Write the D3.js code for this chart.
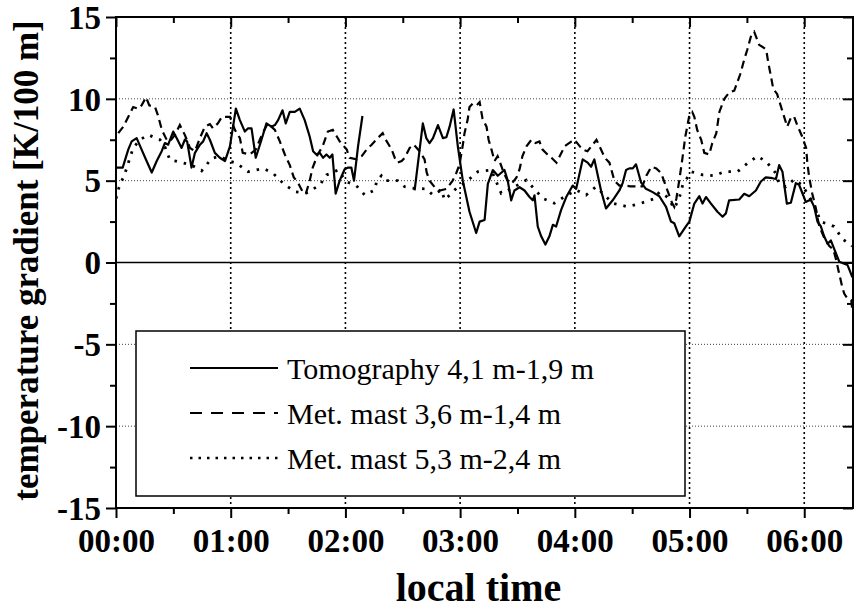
<!DOCTYPE html>
<html><head><meta charset="utf-8">
<script src="https://cdn.jsdelivr.net/npm/d3@7"></script>
<style>
body{margin:0;background:#fff;}
text{font-family:"Liberation Serif","Times New Roman",serif;}
</style></head>
<body><svg id="c" width="854" height="610"></svg>
<script>
// ---- data (time in minutes after 00:00, value in K/100 m) ----
const tomoTime = [0.4,3.5,6.4,8.2,10.8,13.4,16.0,18.7,21.3,23.9,25.6,27.3,29.9,31.7,34.3,36.0,37.2,39.5,41.3,43.9,45.6,47.4,49.1,51.7,54.3,57.0,59.6,62.7,64.8,67.4,69.1,70.9,73.1,76.1,78.7,81.3,83.1,84.8,87.1,88.8,90.9,93.5,96.1,98.7,101.3,103.1,104.8,106.6,108.3,110.1,111.8,113.2,114.9,117.0,119.6,121.4,123.1,124.5,126.6,128.9,
  142.0,
  156.2,160.5,162.3,164.0,165.8,168.4,171.0,172.8,174.5,176.6,178.8,181.4,184.9,188.4,190.2,192.8,194.5,197.1,199.7,203.2,204.9,206.7,208.4,211.1,213.7,216.3,218.0,218.9,220.6,222.4,224.6,226.7,228.5,230.2,232.8,235.5,238.9,240.7,244.1,246.7,248.5,250.2,253.7,256.3,259.8,263.3,265.0,266.8,268.5,270.3,272.0,274.6,277.2,280.7,284.2,287.7,290.3,292.0,294.6,298.1,299.9,302.5,305.1,306.8,308.6,311.2,314.6,317.3,319.0,320.7,326.0,328.6,331.2,334.7,337.3,339.9,343.4,345.2,346.9,348.6,350.9,353.0,355.6,357.3,360.8,363.4,365.2,366.9,368.7,370.4,372.2,373.9,375.6,378.3,382.6,385.2];
const tomoValue = [5.8,5.8,6.9,7.4,7.6,6.9,6.2,5.5,6.2,6.8,7.3,7.2,8.0,7.6,7.0,7.5,7.4,5.8,6.7,7.2,7.4,7.9,7.5,6.7,6.4,6.2,7.1,9.4,8.7,8.0,8.2,8.2,6.4,7.5,8.5,8.3,8.4,8.7,9.3,8.5,9.2,9.2,9.4,8.7,7.7,6.8,6.6,6.7,6.4,6.6,6.4,6.6,4.2,5.0,5.7,5.8,5.8,5.0,7.1,8.95,
  null,
  4.4,8.5,7.6,7.3,7.6,8.4,7.6,7.65,8.3,9.35,7.1,5.0,3.1,1.8,2.5,2.6,4.8,5.65,5.3,5.65,5.0,3.8,4.4,4.6,4.4,4.0,3.8,4.1,2.2,1.6,1.1,1.6,2.3,2.2,3.2,4.0,4.7,4.5,6.3,6.1,5.85,6.3,4.4,3.3,3.8,4.4,4.85,5.65,5.75,5.75,6.0,4.9,4.5,4.3,4.05,3.4,2.5,2.4,1.6,2.2,2.5,3.6,4.05,3.6,4.0,3.6,3.1,2.8,3.0,3.8,3.85,4.2,4.05,4.4,4.95,5.2,5.15,5.1,5.95,5.55,3.6,3.65,4.85,4.75,3.7,3.85,3.4,2.5,2.2,1.6,1.15,1.35,0.85,0.05,-0.15,-0.9];

const mast36Time = [1.2,3.8,7.3,9.0,11.6,13.4,15.7,17.4,20.4,21.9,24.0,26.5,28.2,30.8,33.4,36.0,38.7,41.3,43.9,46.5,49.1,50.7,53.3,55.4,59.6,62.2,64.8,66.3,70.0,73.1,76.3,79.4,83.1,85.7,88.3,90.9,93.0,95.1,97.7,99.3,101.3,102.9,105.5,108.1,110.8,113.4,115.5,117.0,120.7,122.2,125.9,128.5,131.1,133.7,136.9,139.5,141.1,144.2,145.8,147.3,149.4,151.0,153.6,155.7,158.8,161.4,162.5,164.0,166.7,169.3,172.9,176.1,178.1,179.7,181.3,182.3,183.9,184.9,186.5,188.6,190.2,191.7,193.8,194.9,196.4,198.0,199.6,201.7,202.7,204.8,206.9,209.5,211.1,212.6,214.7,217.3,219.4,221.5,223.1,225.7,227.8,230.4,233.0,234.6,238.3,239.8,241.9,244.0,246.6,248.7,251.3,252.9,254.9,256.5,258.1,260.7,263.3,266.4,269.0,275.3,277.4,280.0,282.6,285.2,287.8,289.4,291.0,292.0,293.1,294.6,296.2,297.8,298.8,299.9,301.4,302.5,304.0,306.1,307.7,310.3,311.9,314.0,315.6,318.2,320.8,323.4,326.5,328.6,330.2,332.3,333.8,336.4,339.1,340.1,341.2,342.7,343.8,345.8,347.9,349.5,351.1,353.2,354.7,356.3,358.9,361.0,361.6,362.6,364.2,366.3,366.8,367.9,370.5,373.1,375.2,376.7,378.3,379.9,380.9,382.6,384.6,385.2];
const mast36Value = [7.9,8.3,9.1,9.5,9.4,9.6,10.1,9.6,9.5,9.0,8.1,7.5,7.4,7.8,8.4,7.8,7.0,6.8,7.6,8.3,8.45,8.2,8.5,8.9,8.9,8.1,7.6,6.7,6.6,6.9,7.8,8.5,8.1,7.4,6.6,5.95,5.2,4.9,4.3,4.2,5.0,5.8,6.6,7.1,8.0,8.1,7.7,7.4,6.9,6.4,6.3,6.5,6.9,7.2,7.6,7.9,7.5,6.9,6.4,6.1,6.2,6.4,7.0,7.2,6.8,6.3,5.5,5.0,4.6,4.4,4.5,5.0,5.5,6.0,7.1,7.9,8.7,9.5,9.7,9.6,9.8,8.8,8.3,7.5,6.9,6.2,6.5,5.85,5.5,5.0,4.8,5.2,5.7,6.5,7.1,7.5,7.3,7.4,6.9,6.6,6.4,6.1,6.7,7.1,7.4,7.5,7.2,6.9,6.8,7.1,7.5,7.1,6.6,6.3,6.1,5.0,4.7,4.7,4.65,4.65,5.3,5.85,5.75,5.45,4.6,4.1,3.6,3.4,3.9,5.0,6.3,7.7,8.3,9.0,9.2,8.9,8.1,7.5,6.7,6.6,7.3,7.9,9.2,10.0,10.4,10.5,11.5,12.4,13.0,13.9,14.1,13.3,13.1,13.0,12.2,11.3,10.6,10.3,9.5,8.9,8.3,8.9,8.9,8.4,7.7,7.0,6.1,5.2,4.2,3.2,2.8,2.2,1.5,1.0,0.8,0.15,-0.7,-1.5,-1.9,-2.2,-2.3,-3.0];

const mast53Time = [0,1.6,4.7,7.3,9.0,12.5,16.9,23.0,25.6,28.2,31.3,39.5,44.8,50.0,54.3,57.8,63.1,69.1,77.0,82.2,87.4,93.5,99.6,106.6,110.1,113.4,116.1,120.5,125.7,130.1,135.3,136.4,138.8,140.5,147.3,151.0,156.2,162.3,165.8,170.2,171.9,178.0,183.2,189.3,196.3,201.5,206.7,214.6,223.2,229.3,234.6,240.7,245.9,251.1,259.8,267.6,274.6,281.6,284.2,288.4,292.0,294.6,296.4,300.8,306.8,312.9,318.2,325.1,330.3,335.5,340.1,345.2,346.9,350.4,354.7,358.9,364.3,368.7,375.6,379.9,385.0];
const mast53Value = [3.9,4.6,5.45,6.4,7.0,7.5,7.8,7.5,7.07,6.26,6.2,5.95,5.6,6.36,6.5,6.26,6.06,5.55,5.75,5.45,4.84,4.33,4.25,4.73,5.35,5.5,5.65,4.94,4.7,4.12,4.43,5.0,5.3,5.0,5.0,4.63,4.53,4.5,4.12,4.43,3.82,4.53,4.94,5.55,5.65,4.23,4.5,5.04,3.92,3.62,4.02,4.43,4.12,4.63,3.62,3.41,3.62,3.9,4.3,4.0,3.31,3.92,4.73,5.55,5.35,5.3,5.55,5.55,6.06,6.5,6.16,5.45,4.8,4.63,5.08,4.73,3.7,2.5,2.2,1.45,1.0];

const xMajorTicks = [0,60,120,180,240,300,360];
const xMinorTicks = [30,90,150,210,270,330];
const xTickLabels = ["00:00","01:00","02:00","03:00","04:00","05:00","06:00"];
const yMajorTicks = [-15,-10,-5,0,5,10,15];
const yMinorTicks = [-12.5,-7.5,-2.5,2.5,7.5,12.5];
const legendLabels = ["Tomography 4,1 m-1,9 m","Met. mast 3,6 m-1,4 m","Met. mast 5,3 m-2,4 m"];

// ---- drawing ----
const svg = d3.select("#c");
const L=116, R=853, T=17, B=508;
const x = d3.scaleLinear().domain([0,385.5]).range([L,R]);
const y = d3.scaleLinear().domain([-15,15]).range([B,T]);

svg.append("defs").append("clipPath").attr("id","clip")
  .append("rect").attr("x",L).attr("y",T).attr("width",R-L).attr("height",B-T);

// grid
const grid = svg.append("g");
grid.selectAll("line.vg").data(xMajorTicks.filter(d=>d>0)).join("line")
  .attr("x1",d=>x(d)).attr("x2",d=>x(d)).attr("y1",T).attr("y2",B)
  .attr("stroke","#000").attr("stroke-width",1.6).attr("stroke-dasharray","2,3");
grid.selectAll("line.hg").data(yMajorTicks.filter(d=>d!==0 && Math.abs(d)<15)).join("line")
  .attr("x1",L).attr("x2",R).attr("y1",d=>y(d)).attr("y2",d=>y(d))
  .attr("stroke","#444").attr("stroke-width",1).attr("stroke-dasharray","1,2");
grid.append("line").attr("x1",L).attr("x2",R).attr("y1",y(0)).attr("y2",y(0))
  .attr("stroke","#000").attr("stroke-width",1.5);

// series
function series(t,v){return t.map((d,i)=>[d,v[i]]);}
const line = d3.line().defined(d=>d[1]!==null).x(d=>x(d[0])).y(d=>y(d[1]));
const plot = svg.append("g").attr("clip-path","url(#clip)");
plot.append("path").datum(series(mast53Time,mast53Value)).attr("d",line)
  .attr("fill","none").attr("stroke","#000").attr("stroke-width",2.8).attr("stroke-dasharray","2.5,7");
plot.append("path").datum(series(mast36Time,mast36Value)).attr("d",line)
  .attr("fill","none").attr("stroke","#000").attr("stroke-width",2.2).attr("stroke-dasharray","8,5");
plot.append("path").datum(series(tomoTime,tomoValue)).attr("d",line)
  .attr("fill","none").attr("stroke","#000").attr("stroke-width",2.2).attr("stroke-linejoin","round");

// axes
function styleAxis(g){g.select(".domain").remove();g.selectAll("line").attr("stroke","#000").attr("stroke-width",2);}
const fmt = d=>xTickLabels[xMajorTicks.indexOf(d)];
svg.append("g").attr("transform",`translate(0,${B})`)
  .call(d3.axisBottom(x).tickValues(xMajorTicks).tickSize(10).tickFormat(fmt)).call(styleAxis)
  .selectAll("text").attr("font-size",33).attr("font-weight","bold").attr("dy",0).attr("y",44);
svg.append("g").attr("transform",`translate(0,${B})`)
  .call(d3.axisBottom(x).tickValues(xMinorTicks).tickSize(6).tickFormat("")).call(styleAxis);
svg.append("g").attr("transform",`translate(0,${T})`)
  .call(d3.axisTop(x).tickValues(xMajorTicks).tickSize(-10).tickFormat("")).call(styleAxis);
svg.append("g").attr("transform",`translate(0,${T})`)
  .call(d3.axisTop(x).tickValues(xMinorTicks).tickSize(-6).tickFormat("")).call(styleAxis);
svg.append("g").attr("transform",`translate(${L},0)`)
  .call(d3.axisLeft(y).tickValues(yMajorTicks).tickSize(10).tickFormat(d=>d)).call(styleAxis)
  .selectAll("text").attr("font-size",33).attr("font-weight","bold").attr("x",-15).attr("dy","0.34em");
svg.append("g").attr("transform",`translate(${L},0)`)
  .call(d3.axisLeft(y).tickValues(yMinorTicks).tickSize(6).tickFormat("")).call(styleAxis);
svg.append("g").attr("transform",`translate(${R},0)`)
  .call(d3.axisRight(y).tickValues(yMajorTicks).tickSize(-10).tickFormat("")).call(styleAxis);
svg.append("g").attr("transform",`translate(${R},0)`)
  .call(d3.axisRight(y).tickValues(yMinorTicks).tickSize(-6).tickFormat("")).call(styleAxis);
svg.append("rect").attr("x",L).attr("y",T).attr("width",R-L).attr("height",B-T)
  .attr("fill","none").attr("stroke","#000").attr("stroke-width",2);

// axis titles
svg.append("text").attr("x",(L+R)/2-6).attr("y",601).attr("text-anchor","middle")
  .attr("font-size",40).attr("font-weight","bold").text("local time");
svg.append("text").attr("transform",`translate(38,${(T+B)/2-2}) rotate(-90)`).attr("text-anchor","middle")
  .attr("font-size",35).attr("font-weight","bold").text("temperature gradient [K/100 m]");

// legend
const lg = svg.append("g");
lg.append("rect").attr("x",136).attr("y",331).attr("width",549).attr("height",165)
  .attr("fill","#fff").attr("stroke","#000").attr("stroke-width",1.5);
const dashes = [null,"12,9","2.5,6"];
const widths = [2.2,2.2,2.6];
legendLabels.forEach((lab,i)=>{
  const yy = 368 + i*45;
  lg.append("line").attr("x1",190).attr("x2",278).attr("y1",yy).attr("y2",yy)
    .attr("stroke","#000").attr("stroke-width",widths[i]).attr("stroke-dasharray",dashes[i]);
  lg.append("text").attr("x",287).attr("y",yy+11).attr("font-size",30).text(lab);
});
</script></body></html>
